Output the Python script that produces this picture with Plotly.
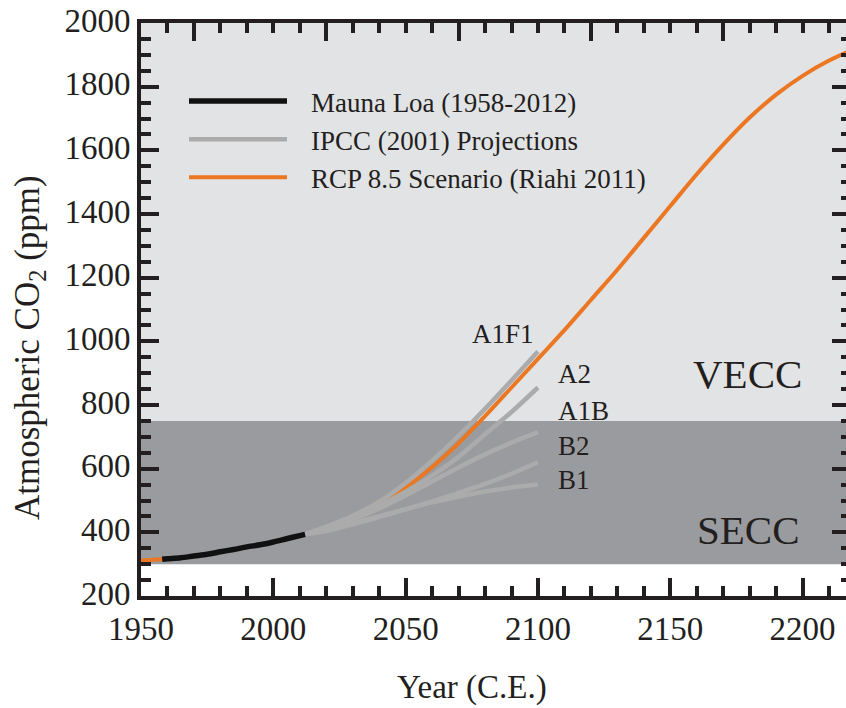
import plotly.graph_objects as go

# --- data -------------------------------------------------------------
# RCP 8.5 concentration pathway (ppm)
rcp_years = [1950, 1960, 1970, 1980, 1990, 2000, 2010, 2020, 2030, 2040,
             2050, 2060, 2070, 2080, 2090, 2100, 2110, 2120, 2130, 2140,
             2150, 2160, 2170, 2180, 2190, 2200, 2210, 2220]
rcp_co2 = [311, 317, 325, 338, 354, 369, 389, 412, 449, 497,
           541, 605, 680, 765, 855, 945, 1035, 1130, 1225, 1325,
           1425, 1525, 1618, 1703, 1775, 1834, 1882, 1920]

# Mauna Loa observations (ppm)
ml_years = [1958, 1960, 1965, 1970, 1975, 1980, 1985, 1990, 1995, 2000,
            2005, 2010, 2012]
ml_co2 = [315.3, 316.9, 320.0, 325.7, 331.1, 338.8, 346.1, 354.4, 360.8,
          369.6, 379.8, 389.9, 393.8]

# IPCC (2001) SRES projections (ppm)
ipcc_years = [2012, 2020, 2030, 2040, 2050, 2060, 2070, 2080, 2090, 2100]
a1f1 = [394, 418, 452, 496, 555, 625, 703, 788, 877, 968]
a2 = [394, 415, 446, 484, 528, 578, 637, 708, 778, 855]
a1b = [394, 412, 441, 475, 516, 560, 604, 645, 682, 715]
b2 = [394, 404, 425, 448, 472, 497, 524, 552, 584, 620]
b1 = [394, 407, 428, 451, 473, 494, 512, 528, 541, 550]
scenario_names = ["A1F1", "A2", "A1B", "B2", "B1"]
scenario_series = [a1f1, a2, a1b, b2, b1]

# concentration bands (ppm)
secc_band = [300, 750]
vecc_band = [750, 2000]

x_ticks = [1950, 2000, 2050, 2100, 2150, 2200]
x_top_ticks = [1970, 2020, 2070, 2120, 2170]
y_ticks = [200, 400, 600, 800, 1000, 1200, 1400, 1600, 1800, 2000]

# --- styling ------------------------------------------------------------
TXT = "#231f20"
ORANGE = "#eb7722"
GREY = "#ababab"
BLACK = "#111111"
FONT = "Liberation Serif"
X_RANGE = [1950, 2216.4]
Y_RANGE = [200, 2000]
GAP = "\u2002\u2009"  # spacing between legend swatch and its text

fig = go.Figure()

fig.add_trace(go.Scatter(
    x=rcp_years, y=rcp_co2, mode="lines",
    name=GAP + "RCP 8.5 Scenario (Riahi 2011)",
    line=dict(color=ORANGE, width=4, shape="spline", smoothing=1.0),
    legendrank=3,
))

for i, (nm, vals) in enumerate(zip(scenario_names, scenario_series)):
    fig.add_trace(go.Scatter(
        x=ipcc_years, y=vals, mode="lines",
        name=GAP + "IPCC (2001) Projections",
        line=dict(color=GREY, width=4.5, shape="spline", smoothing=0.8),
        legendgroup="ipcc", showlegend=(i == 0), legendrank=2,
    ))

fig.add_trace(go.Scatter(
    x=ml_years, y=ml_co2, mode="lines", name=GAP + "Mauna Loa (1958-2012)",
    line=dict(color=BLACK, width=5.5, shape="spline", smoothing=0.8),
    legendrank=1,
))

# placeholder trace so the mirrored frame axes get drawn
fig.add_trace(go.Scatter(x=[None], y=[None], xaxis="x2", yaxis="y2",
                         mode="lines", showlegend=False, hoverinfo="skip"))

# background bands
fig.add_shape(type="rect", xref="paper", x0=0, x1=1, yref="y",
              y0=vecc_band[0], y1=vecc_band[1], fillcolor="#e2e3e5",
              line_width=0, layer="below")
fig.add_shape(type="rect", xref="paper", x0=0, x1=1, yref="y",
              y0=secc_band[0], y1=secc_band[1], fillcolor="#9a9b9e",
              line_width=0, layer="below")

# scenario labels at the end of the IPCC curves
label_pos = {
    "A1F1": (2099.3, 1023, "right"),
    "A2": (2106.7, 897, "left"),
    "A1B": (2106.7, 780, "left"),
    "B2": (2106.7, 671, "left"),
    "B1": (2106.7, 563, "left"),
}
for nm in scenario_names:
    lx, ly, anc = label_pos[nm]
    fig.add_annotation(x=lx, y=ly, text=nm, showarrow=False, xanchor=anc,
                       yanchor="middle",
                       font=dict(size=27, color=TXT, family=FONT))

fig.add_annotation(x=2179.1, y=897, text="VECC", showarrow=False,
                   xanchor="center", yanchor="middle",
                   font=dict(size=41, color=TXT, family=FONT))
fig.add_annotation(x=2179.6, y=407, text="SECC", showarrow=False,
                   xanchor="center", yanchor="middle",
                   font=dict(size=41, color=TXT, family=FONT))

# axis titles
fig.add_annotation(xref="paper", yref="paper", x=(472 - 141) / 705,
                   y=(596 - 687) / 573, text="Year (C.E.)", showarrow=False,
                   xanchor="center", yanchor="middle",
                   font=dict(size=33, color=TXT, family=FONT))
fig.add_annotation(xref="paper", yref="paper", x=(29 - 141) / 705,
                   y=(596 - 348) / 573, text="Atmospheric CO<sub>2</sub> (ppm)",
                   textangle=-90, showarrow=False, xanchor="center",
                   yanchor="middle",
                   font=dict(size=35, color=TXT, family=FONT))

tick_common = dict(ticks="inside", tickcolor=TXT, tickwidth=4, showgrid=False,
                   zeroline=False)
tick_font = dict(size=33, color=TXT, family=FONT)

fig.update_layout(
    width=846, height=708,
    margin=dict(l=141, r=0, t=23, b=112),
    plot_bgcolor="white", paper_bgcolor="white",
    font=dict(family=FONT, color=TXT, size=27),
    legend=dict(x=(184 - 141) / 705, y=(596 - 77) / 573, xanchor="left",
                yanchor="top", bgcolor="rgba(0,0,0,0)", itemwidth=98,
                tracegroupgap=0, traceorder="normal",
                font=dict(size=27, color=TXT, family=FONT)),
    xaxis=dict(range=X_RANGE, tickvals=x_ticks, ticklen=18, showline=True,
               linewidth=4, linecolor=TXT, tickfont=tick_font,
               minor=dict(dtick=10, tick0=1950, ticks="inside", ticklen=10,
                          tickwidth=4, tickcolor=TXT, showgrid=False),
               **tick_common),
    yaxis=dict(range=Y_RANGE, tickvals=y_ticks, ticklen=18, showline=True,
               linewidth=4, linecolor=TXT, tickfont=tick_font,
               ticklabelshift=-3,
               minor=dict(dtick=50, tick0=200, ticks="inside", ticklen=10,
                          tickwidth=4, tickcolor=TXT, showgrid=False),
               **tick_common),
    xaxis2=dict(range=X_RANGE, overlaying="x", side="top", anchor="y2",
                tickvals=x_top_ticks, ticklen=18, showline=True, linewidth=4,
                linecolor=TXT, showticklabels=False,
                minor=dict(dtick=10, tick0=1950, ticks="inside", ticklen=10,
                           tickwidth=4, tickcolor=TXT, showgrid=False),
                **tick_common),
    yaxis2=dict(range=Y_RANGE, overlaying="y", side="right", anchor="x2",
                tickvals=y_ticks, ticklen=14, showline=False,
                showticklabels=False,
                minor=dict(dtick=50, tick0=200, ticks="inside", ticklen=5.5,
                           tickwidth=4, tickcolor=TXT, showgrid=False),
                **tick_common),
)

fig.write_html("out.html")
